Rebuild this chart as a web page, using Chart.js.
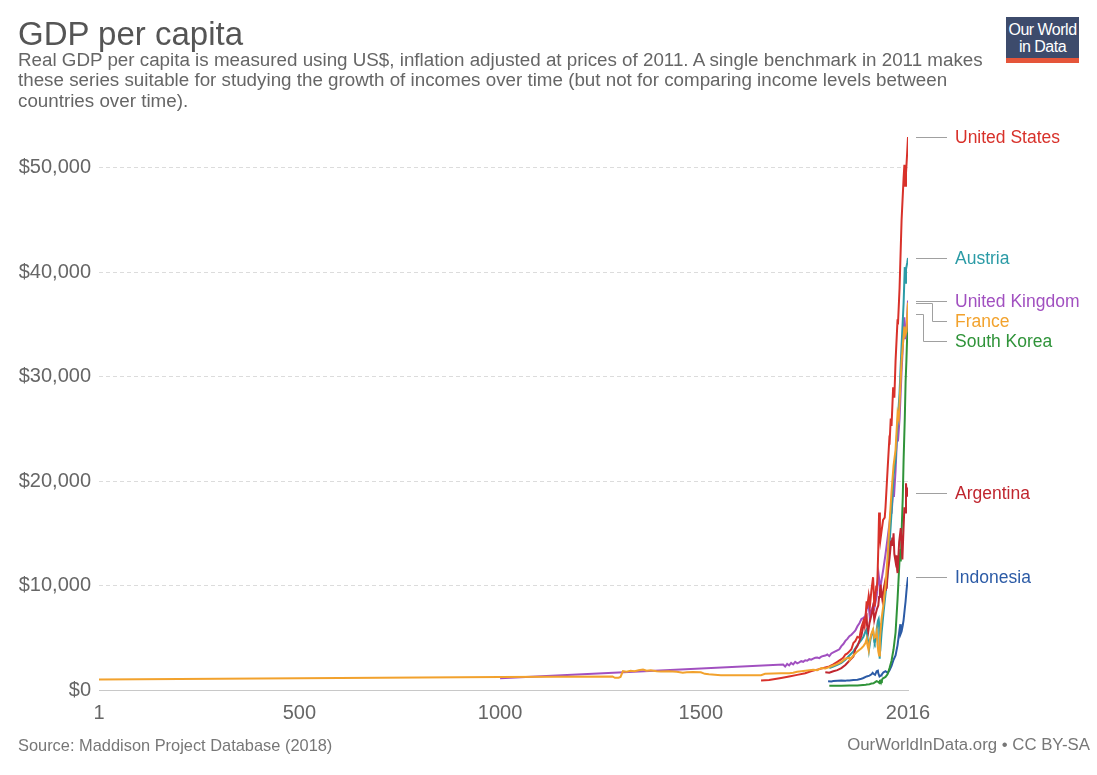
<!DOCTYPE html>
<html>
<head>
<meta charset="utf-8">
<script src="https://cdn.jsdelivr.net/npm/chart.js@4.4.1/dist/chart.umd.min.js"></script>
<style>
html,body{margin:0;padding:0;background:#fff;}
#wrap{position:relative;width:1097px;height:775px;overflow:hidden;font-family:"Liberation Sans",Arial,Helvetica,sans-serif;background:#fff;}
#c{position:absolute;left:0;top:0;}
.t{position:absolute;white-space:nowrap;}
#title{left:18px;top:16px;font-size:33px;line-height:36px;color:#555;}
#subtitle{left:18px;top:50px;font-size:18.8px;line-height:20.3px;color:#666;}
#source{left:18px;top:736px;font-size:16.4px;line-height:18px;color:#777;}
#license{right:7px;top:736px;font-size:16.8px;line-height:18px;color:#777;}
#logo{position:absolute;left:1006px;top:17px;width:73px;height:46px;background:#3d4b6c;color:#fff;text-align:center;font-size:16px;line-height:17px;letter-spacing:-0.5px;box-sizing:border-box;padding-top:4px;}
#logo .strip{position:absolute;left:0;bottom:0;width:100%;height:5px;background:#e5553a;}
.lab{position:absolute;font-size:17.5px;line-height:20px;white-space:nowrap;}
</style>
</head>
<body>
<div id="wrap">
  <canvas id="c" width="1097" height="775"></canvas>
  <div id="title" class="t">GDP per capita</div>
  <div id="subtitle" class="t">Real GDP per capita is measured using US$, inflation adjusted at prices of 2011. A single benchmark in 2011 makes<br>these series suitable for studying the growth of incomes over time (but not for comparing income levels between<br>countries over time).</div>
  <div id="logo">Our World<br>in Data<div class="strip"></div></div>
  <div id="source" class="t">Source: Maddison Project Database (2018)</div>
  <div id="license" class="t">OurWorldInData.org • CC BY-SA</div>
</div>
<script>
// ---------------- DATA ----------------
const countries = ["France", "United States", "Argentina", "Austria", "United Kingdom", "South Korea", "Indonesia"];
const seriesColors = ["#f2a22d", "#d8312a", "#c0262f", "#2b9ba6", "#a150c0", "#2f9339", "#2c5ba6"];

const franceYears  = [1, 1000, 1280, 1286, 1295, 1300, 1306, 1315, 1325, 1335, 1345, 1356, 1365, 1375, 1390, 1400, 1420, 1440, 1455, 1465, 1480, 1500, 1510, 1520, 1550, 1600, 1650, 1660, 1700, 1720, 1730, 1740, 1750, 1760, 1770, 1780, 1790, 1800, 1810, 1820, 1830, 1840, 1850, 1860, 1870, 1871, 1880, 1890, 1900, 1905, 1910, 1913, 1915, 1918, 1920, 1925, 1929, 1932, 1936, 1938, 1940, 1942, 1944, 1946, 1950, 1955, 1960, 1965, 1970, 1975, 1980, 1985, 1990, 1993, 2000, 2007, 2009, 2012, 2016];
const franceValues = [1000, 1250, 1300, 1170, 1180, 1250, 1800, 1750, 1850, 1800, 1900, 1960, 1850, 1880, 1800, 1780, 1800, 1750, 1650, 1700, 1720, 1700, 1550, 1500, 1420, 1420, 1420, 1550, 1600, 1600, 1650, 1750, 1800, 1850, 1900, 1950, 1900, 2100, 2050, 2200, 2350, 2500, 2700, 3000, 3100, 2900, 3300, 3700, 4000, 4200, 4500, 4900, 4300, 3800, 4600, 5400, 5800, 5000, 5200, 5600, 4400, 3700, 3300, 4900, 6800, 8200, 10000, 12700, 16000, 19000, 21500, 23000, 26500, 26000, 31500, 34800, 34000, 34300, 37100];

const usYears  = [1650, 1670, 1700, 1720, 1740, 1760, 1774, 1790, 1800, 1810, 1820, 1830, 1840, 1850, 1855, 1860, 1865, 1870, 1875, 1880, 1885, 1890, 1895, 1900, 1905, 1908, 1910, 1913, 1914, 1918, 1921, 1925, 1929, 1932, 1933, 1937, 1938, 1940, 1942, 1944, 1946, 1947, 1950, 1954, 1958, 1960, 1965, 1969, 1970, 1973, 1975, 1979, 1982, 1985, 1990, 1991, 1995, 2000, 2001, 2005, 2007, 2009, 2011, 2014, 2016];
const usValues = [900, 950, 1150, 1300, 1450, 1600, 1800, 1950, 2050, 2150, 2250, 2450, 2700, 2950, 3100, 3400, 3500, 3700, 3900, 4500, 4700, 5100, 5000, 6000, 6600, 6100, 6900, 8500, 7800, 9000, 8000, 9600, 10800, 8200, 8000, 10000, 9500, 10800, 13500, 17000, 14800, 14300, 15200, 16300, 16500, 17500, 21000, 23700, 23500, 26000, 25300, 29000, 28000, 31500, 35500, 35000, 38500, 45000, 45000, 49000, 50300, 48300, 49500, 51500, 52970];

const argYears  = [1810, 1820, 1830, 1840, 1850, 1860, 1870, 1875, 1880, 1885, 1890, 1895, 1900, 1905, 1910, 1913, 1914, 1917, 1920, 1925, 1929, 1932, 1935, 1939, 1942, 1944, 1946, 1948, 1949, 1952, 1955, 1958, 1959, 1961, 1963, 1965, 1970, 1974, 1975, 1977, 1978, 1980, 1982, 1985, 1987, 1989, 1990, 1994, 1998, 1999, 2002, 2004, 2007, 2009, 2011, 2012, 2014, 2015, 2016];
const argValues = [1700, 1650, 1800, 1900, 2100, 2400, 2800, 3000, 3200, 3900, 4200, 4700, 5200, 6200, 6900, 7100, 6200, 5600, 6400, 7200, 8000, 6700, 7200, 7800, 8100, 8900, 9500, 10100, 9500, 8700, 9600, 10200, 9600, 10400, 9700, 11000, 12600, 14300, 13900, 14600, 13800, 15000, 13000, 12300, 12900, 11500, 11200, 14200, 15500, 14800, 12500, 14600, 17500, 17000, 19800, 19200, 18600, 19400, 18870];

const autYears  = [1820, 1830, 1840, 1850, 1860, 1870, 1880, 1890, 1900, 1905, 1910, 1913, 1915, 1918, 1919, 1922, 1925, 1929, 1932, 1933, 1937, 1938, 1941, 1943, 1944, 1945, 1946, 1947, 1950, 1955, 1960, 1965, 1970, 1975, 1980, 1985, 1990, 1995, 2000, 2005, 2008, 2009, 2011, 2014, 2016];
const autValues = [2100, 2250, 2400, 2600, 2900, 3300, 3700, 4300, 4800, 5100, 5600, 5800, 5000, 4400, 3900, 4700, 5300, 5700, 4600, 4500, 5000, 5800, 6600, 6800, 6400, 3000, 3500, 3800, 5400, 7400, 9200, 11000, 14000, 17000, 20500, 22000, 25500, 28500, 33000, 37000, 40500, 39000, 40300, 40900, 41380];

const ukYears  = [1000, 1705, 1710, 1715, 1720, 1725, 1730, 1735, 1740, 1745, 1750, 1755, 1760, 1765, 1770, 1775, 1780, 1785, 1790, 1795, 1800, 1805, 1810, 1815, 1820, 1825, 1830, 1835, 1840, 1845, 1850, 1855, 1860, 1865, 1870, 1875, 1880, 1885, 1890, 1895, 1900, 1905, 1910, 1913, 1916, 1918, 1919, 1921, 1925, 1929, 1931, 1935, 1938, 1940, 1943, 1945, 1947, 1950, 1955, 1960, 1965, 1970, 1974, 1975, 1979, 1981, 1985, 1989, 1991, 1995, 2000, 2004, 2007, 2009, 2012, 2016];
const ukValues = [1130, 2440, 2250, 2500, 2350, 2600, 2450, 2700, 2550, 2650, 2760, 2700, 2850, 2800, 2950, 2900, 3000, 3080, 3100, 3050, 3200, 3250, 3300, 3400, 3240, 3500, 3600, 3700, 3800, 3900, 4200, 4400, 4700, 4900, 5150, 5300, 5500, 5700, 6100, 6400, 6800, 6900, 7100, 7700, 8300, 8600, 7700, 6900, 7600, 8100, 7600, 8400, 9000, 9900, 11000, 10300, 9800, 10500, 11700, 13000, 14500, 16000, 17300, 16900, 19000, 18500, 21000, 24500, 23800, 26000, 30500, 33500, 35700, 33600, 34500, 37300];

const korYears  = [1820, 1850, 1870, 1890, 1911, 1913, 1920, 1925, 1930, 1936, 1938, 1940, 1943, 1945, 1946, 1950, 1951, 1953, 1955, 1960, 1965, 1970, 1975, 1980, 1985, 1990, 1995, 1997, 1998, 2000, 2003, 2005, 2008, 2010, 2012, 2014, 2016];
const korValues = [400, 400, 420, 430, 500, 520, 560, 620, 650, 800, 850, 800, 750, 650, 900, 950, 900, 1100, 1150, 1250, 1500, 2100, 2800, 3900, 5500, 8700, 12500, 13500, 12300, 15000, 18500, 22000, 26000, 29500, 31500, 34000, 36000];

const idnYears  = [1817, 1825, 1830, 1840, 1850, 1860, 1865, 1870, 1880, 1890, 1900, 1905, 1913, 1920, 1925, 1928, 1930, 1934, 1938, 1941, 1942, 1945, 1949, 1950, 1955, 1960, 1963, 1966, 1970, 1975, 1980, 1985, 1990, 1995, 1997, 1998, 2000, 2003, 2005, 2008, 2010, 2012, 2014, 2016];
const idnValues = [840, 820, 860, 880, 900, 880, 920, 900, 950, 980, 1080, 1150, 1300, 1380, 1500, 1650, 1550, 1450, 1800, 1850, 1600, 1300, 1400, 1450, 1700, 1800, 1700, 1650, 1900, 2300, 2900, 3300, 4300, 5800, 6300, 5400, 5600, 6200, 6700, 7800, 8500, 9400, 10200, 10820];

const xTickValues = [1, 500, 1000, 1500, 2016];
const yTickValues = [0, 10000, 20000, 30000, 40000, 50000];

// ---------------- BUILD ----------------
const seriesYears = [franceYears, usYears, argYears, autYears, ukYears, korYears, idnYears];
const seriesValues = [franceValues, usValues, argValues, autValues, ukValues, korValues, idnValues];

const datasets = countries.map((name, i) => ({
  label: name,
  data: seriesYears[i].map((yr, k) => ({ x: yr, y: seriesValues[i][k] })),
  borderColor: seriesColors[i],
  backgroundColor: seriesColors[i],
  borderWidth: 2,
  pointRadius: 0,
  tension: 0,
  fill: false
}));

const wrap = document.getElementById('wrap');
const labelDivs = {};

const endLabels = {
  id: 'endLabels',
  afterDraw(chart) {
    const ctx = chart.ctx;
    const ys = chart.scales.y;
    const items = chart.data.datasets.map((ds, i) => {
      const last = ds.data[ds.data.length - 1];
      const py = ys.getPixelForValue(last.y);
      return { name: ds.label, color: ds.borderColor, raw: py, pos: py };
    }).sort((a, b) => a.raw - b.raw);
    const gap = 20;
    for (let i = 1; i < items.length; i++) {
      if (items[i].pos < items[i - 1].pos + gap) items[i].pos = items[i - 1].pos + gap;
    }
    const x0 = chart.chartArea.right + 8;
    const x1 = x0 + 31;
    ctx.save();
    ctx.strokeStyle = '#a0a0a0';
    ctx.lineWidth = 1;
    let d = 0;
    items.forEach(it => {
      ctx.beginPath();
      if (Math.abs(it.pos - it.raw) < 1) {
        ctx.moveTo(x0, Math.round(it.raw) + 0.5);
        ctx.lineTo(x1, Math.round(it.raw) + 0.5);
      } else {
        d += 1;
        const bx = Math.round(x1 - 15 - 9 * (d - 1)) + 0.5;
        ctx.moveTo(x0, Math.round(it.raw) + 0.5);
        ctx.lineTo(bx, Math.round(it.raw) + 0.5);
        ctx.lineTo(bx, Math.round(it.pos) + 0.5);
        ctx.lineTo(x1, Math.round(it.pos) + 0.5);
      }
      ctx.stroke();
      let div = labelDivs[it.name];
      if (!div) {
        div = document.createElement('div');
        div.className = 'lab';
        div.textContent = it.name;
        wrap.appendChild(div);
        labelDivs[it.name] = div;
      }
      div.style.color = it.color;
      div.style.left = (x1 + 8) + 'px';
      div.style.top = (it.pos - 10) + 'px';
    });
    ctx.restore();
  }
};

new Chart(document.getElementById('c'), {
  type: 'line',
  data: { datasets },
  options: {
    responsive: false,
    animation: false,
    devicePixelRatio: 1,
    layout: { padding: { left: 0, right: 189, top: 135.6, bottom: 45 } },
    plugins: { legend: { display: false }, tooltip: { enabled: false } },
    scales: {
      x: {
        type: 'linear',
        min: 1,
        max: 2016,
        afterBuildTicks: s => { s.ticks = xTickValues.map(v => ({ value: v })); },
        afterFit: s => { s.height = 40; },
        grid: { display: false, drawTicks: false },
        border: { display: true, color: '#c8c8c8', width: 1 },
        ticks: {
          autoSkip: false, maxRotation: 0, padding: 11,
          color: '#666', font: { family: '"Liberation Sans", Arial, sans-serif', size: 20 },
          callback: v => String(v)
        }
      },
      y: {
        type: 'linear',
        min: 0,
        max: 53100,
        afterBuildTicks: s => { s.ticks = yTickValues.map(v => ({ value: v })); },
        afterFit: s => { s.width = 99; },
        grid: { color: '#dcdcdc', lineWidth: 1, drawTicks: false },
        border: { display: false, dash: [4, 3] },
        ticks: {
          autoSkip: false, padding: 8,
          color: '#666', font: { family: '"Liberation Sans", Arial, sans-serif', size: 20 },
          callback: v => '$' + Number(v).toLocaleString('en-US')
        }
      }
    }
  },
  plugins: [endLabels]
});
</script>
</body>
</html>
